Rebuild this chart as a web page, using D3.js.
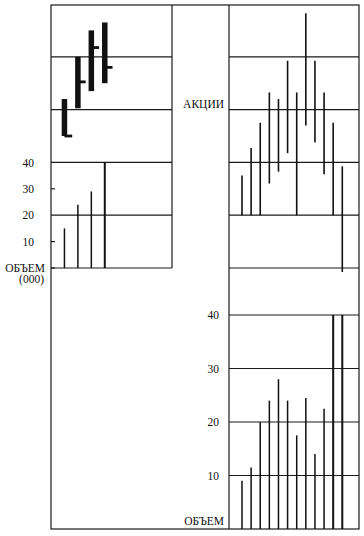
<!DOCTYPE html>
<html>
<head>
<meta charset="utf-8">
<script src="https://cdn.jsdelivr.net/npm/d3@7"></script>
<style>
  body { margin: 0; background: #fff; }
  .grid { stroke: #1a1a1a; stroke-width: 1.2; }
</style>
</head>
<body>
<div id="vis-container"><svg width="364" height="536"></svg></div>
<script>
// ---- data ----
// left chart: 4 days, thick bars with a close tick
var leftDays = [1, 2, 3, 4];
var leftHigh = [64, 80, 90, 93];
var leftLow = [50, 60.5, 67, 70];
var leftClose = [50, 70.5, 83.5, 76];
var leftVolume = [15, 24, 29, 40];

// right chart: 12 days, thin high-low lines
var rightDays = [1, 2, 3, 4, 5, 6, 7, 8, 9, 10, 11, 12];
var rightHigh = [35, 45.5, 55, 66.5, 64, 78.5, 66.5, 96.5, 78.5, 66.5, 55, 38.5];
var rightLow = [20, 20, 20, 32, 36.5, 43.5, 20, 54, 47.5, 35.5, 20, -1.5];
var rightVolume = [9, 11.5, 20, 24, 28, 24, 17.5, 24.5, 14, 22.5, 40, 40];

var priceGrid = [0, 20, 40, 60, 80, 100];
var leftVolTicks = [10, 20, 30, 40];
var rightVolTicks = [10, 20, 30, 40];

var serif = '"Liberation Serif", "DejaVu Serif", "Times New Roman", serif';

var svg = d3.select('#vis-container svg');

var frame = { left: 51, top: 5, right: 359, bottom: 529 };
var leftPanel = { x0: 51, x1: 172 };
var rightPanel = { x0: 229, x1: 359 };

/////////////////////////////////////////////////////////////////////
//                        SCALES                                   //
/////////////////////////////////////////////////////////////////////
var yPrice = d3.scaleLinear().domain([0, 100]).range([268, 4]);
var yVolLeft = d3.scaleLinear().domain([0, 40]).range([268, 162.4]);
var yVolRight = d3.scaleLinear().domain([0, 40]).range([529, 315]);

var xLeft = d3.scaleLinear().domain([0, 9]).range([leftPanel.x0, leftPanel.x1]);
var xRight = d3.scaleLinear().domain([1, 12]).range([242, 342.3]);

/////////////////////////////////////////////////////////////////////
//                        FRAME + GRID                             //
/////////////////////////////////////////////////////////////////////
svg.append('rect')
    .attr('x', frame.left)
    .attr('y', frame.top)
    .attr('width', frame.right - frame.left)
    .attr('height', frame.bottom - frame.top)
    .attr('fill', 'none')
    .attr('stroke', '#1a1a1a')
    .attr('stroke-width', 1.2);

// left panel right edge
svg.append('line').attr('class', 'grid')
    .attr('x1', leftPanel.x1).attr('x2', leftPanel.x1)
    .attr('y1', frame.top).attr('y2', yPrice(0));

// price grid lines in both panels
[leftPanel, rightPanel].forEach(function(p) {
    svg.append('g').selectAll('line')
        .data(priceGrid.slice(0, 5))
        .enter().append('line')
        .attr('class', 'grid')
        .attr('x1', p.x0).attr('x2', p.x1)
        .attr('y1', function(d) { return yPrice(d); })
        .attr('y2', function(d) { return yPrice(d); });
});

// right panel left edge
svg.append('line').attr('class', 'grid')
    .attr('x1', rightPanel.x0).attr('x2', rightPanel.x0)
    .attr('y1', frame.top).attr('y2', frame.bottom);

// right volume grid
svg.append('g').selectAll('line')
    .data(rightVolTicks)
    .enter().append('line')
    .attr('class', 'grid')
    .attr('x1', rightPanel.x0).attr('x2', rightPanel.x1)
    .attr('y1', function(d) { return yVolRight(d); })
    .attr('y2', function(d) { return yVolRight(d); });

/////////////////////////////////////////////////////////////////////
//                        AXES / LABELS                            //
/////////////////////////////////////////////////////////////////////
function styleAxis(g) {
    g.select('.domain').remove();
    g.attr('font-family', serif).attr('font-size', 11.5);
    g.selectAll('.tick text').attr('fill', '#111');
}

var leftAxis = d3.axisLeft(yVolLeft).tickValues(leftVolTicks).tickSize(0).tickPadding(17);
svg.append('g')
    .attr('transform', 'translate(' + [leftPanel.x0, 0] + ')')
    .call(leftAxis)
    .call(styleAxis);

// little ticks inside the left panel at 0, 10, 30
svg.append('g').selectAll('line')
    .data([0, 10, 30])
    .enter().append('line')
    .attr('class', 'grid')
    .attr('x1', leftPanel.x0).attr('x2', leftPanel.x0 + 4)
    .attr('y1', function(d) { return yVolLeft(d); })
    .attr('y2', function(d) { return yVolLeft(d); });

var rightAxis = d3.axisLeft(yVolRight).tickValues(rightVolTicks).tickSize(0).tickPadding(10);
svg.append('g')
    .attr('transform', 'translate(' + [rightPanel.x0, 0] + ')')
    .call(rightAxis)
    .call(styleAxis);

var labels = svg.append('g')
    .attr('font-family', serif)
    .attr('font-size', 11.5)
    .attr('fill', '#111')
    .attr('text-anchor', 'end');

labels.append('text')
    .attr('x', 45).attr('y', yVolLeft(0) + 3.5)
    .text('ОБЪЕМ');
labels.append('text')
    .attr('x', 44).attr('y', yVolLeft(0) + 15)
    .text('(000)');
labels.append('text')
    .attr('x', 224).attr('y', yVolRight(0) - 4)
    .text('ОБЪЕМ');
labels.append('text')
    .attr('x', 224).attr('y', yPrice(60) - 2)
    .text('АКЦИИ');

/////////////////////////////////////////////////////////////////////
//                        LEFT BARS                                //
/////////////////////////////////////////////////////////////////////
var barW = 5.5;
var leftBars = svg.append('g').selectAll('g')
    .data(leftDays)
    .enter().append('g');

leftBars.append('rect')
    .attr('x', function(d, i) { return xLeft(d) - barW / 2; })
    .attr('y', function(d, i) { return yPrice(leftHigh[i]); })
    .attr('width', barW)
    .attr('height', function(d, i) { return yPrice(leftLow[i]) - yPrice(leftHigh[i]); })
    .attr('fill', '#111');

leftBars.append('rect')
    .attr('x', function(d) { return xLeft(d); })
    .attr('y', function(d, i) { return yPrice(leftClose[i]) - 1.4; })
    .attr('width', barW / 2 + 5)
    .attr('height', 2.8)
    .attr('fill', '#111');

svg.append('g').selectAll('line')
    .data(leftDays)
    .enter().append('line')
    .attr('x1', function(d) { return xLeft(d); })
    .attr('x2', function(d) { return xLeft(d); })
    .attr('y1', yVolLeft(0))
    .attr('y2', function(d, i) { return yVolLeft(leftVolume[i]); })
    .attr('stroke', '#111')
    .attr('stroke-width', function(d, i) { return i === 3 ? 2 : 1.5; });

/////////////////////////////////////////////////////////////////////
//                        RIGHT BARS                               //
/////////////////////////////////////////////////////////////////////
svg.append('g').selectAll('line')
    .data(rightDays)
    .enter().append('line')
    .attr('x1', function(d) { return xRight(d); })
    .attr('x2', function(d) { return xRight(d); })
    .attr('y1', function(d, i) { return yPrice(rightLow[i]); })
    .attr('y2', function(d, i) { return yPrice(rightHigh[i]); })
    .attr('stroke', '#111')
    .attr('stroke-width', 1.6);

svg.append('g').selectAll('line')
    .data(rightDays)
    .enter().append('line')
    .attr('x1', function(d) { return xRight(d); })
    .attr('x2', function(d) { return xRight(d); })
    .attr('y1', yVolRight(0))
    .attr('y2', function(d, i) { return yVolRight(rightVolume[i]); })
    .attr('stroke', '#111')
    .attr('stroke-width', function(d, i) { return i >= 10 ? 2 : 1.5; });
</script>
</body>
</html>
